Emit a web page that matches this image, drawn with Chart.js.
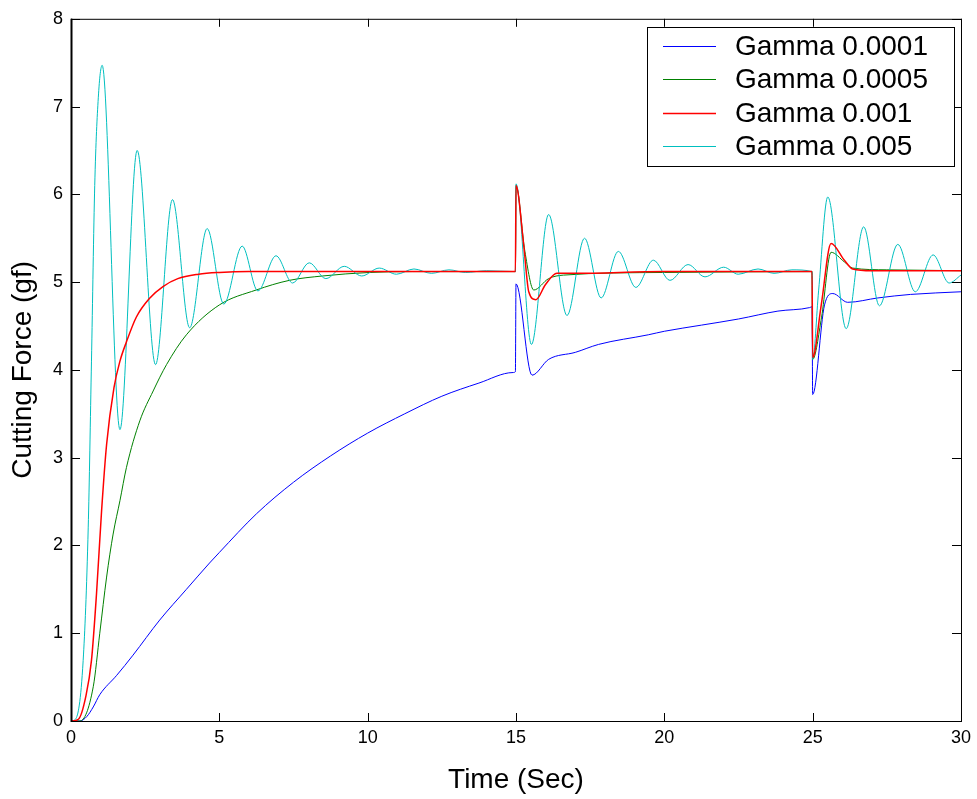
<!DOCTYPE html>
<html>
<head>
<meta charset="utf-8">
<script src="https://cdn.jsdelivr.net/npm/chart.js@4.4.0/dist/chart.umd.min.js"></script>
<style>
  body { margin: 0; background: #fff; }
  #force_chart { display: block; }
</style>
</head>
<body>
<canvas id="force_chart" width="977" height="799"></canvas>
<script>
const labels = ['Gamma 0.0001', 'Gamma 0.0005', 'Gamma 0.001', 'Gamma 0.005'];
const xTicks = [0, 5, 10, 15, 20, 25, 30];
const yTicks = [0, 1, 2, 3, 4, 5, 6, 7, 8];

// Gamma 0.0001 (blue)
const t_g1 = [0, 0.3, 0.53, 0.75, 0.97, 1.54, 2.09, 2.99, 3.89, 4.67, 5.0, 6.25, 7.5, 8.75, 10, 11.25, 12.5, 13.75, 14.9, 14.98,
  15.0, 15.54, 16.1, 17.0, 17.78, 19.46, 20, 21.25, 22.5, 23.83, 24.9, 24.98,
  25.0, 25.4, 25.68, 26.18, 27.2, 28.3, 30];
const v_g1 = [0, 0, 0.05, 0.16, 0.3, 0.52, 0.75, 1.15, 1.5, 1.8, 1.92, 2.36, 2.72, 3.02, 3.28, 3.5, 3.7, 3.85, 3.97, 3.98,
  4.98, 3.94, 4.12, 4.2, 4.29, 4.4, 4.44, 4.51, 4.58, 4.67, 4.71, 4.72,
  3.72, 4.74, 4.87, 4.77, 4.82, 4.86, 4.89];

// Gamma 0.0005 (green)
const t_g2 = [0, 0.3, 0.75, 0.97, 1.2, 1.42, 1.65, 1.87, 2.32, 2.77, 3.22, 3.89, 5.0, 6.24, 7.36, 8.48, 10.05, 11.5, 14.98,
  15.0, 15.3, 15.6, 16.1, 16.6, 20, 24.98,
  25.0, 25.3, 25.62, 26.07, 26.35, 27.5, 30];
const v_g2 = [0, 0, 0.39, 1.0, 1.64, 2.13, 2.51, 2.89, 3.42, 3.76, 4.06, 4.4, 4.74, 4.91, 5.02, 5.07, 5.11, 5.12, 5.12,
  6.1, 5.35, 4.91, 5.04, 5.08, 5.11, 5.12,
  4.12, 4.6, 5.34, 5.23, 5.16, 5.14, 5.13];

// Gamma 0.001 (red)
const t_g3 = [0, 0.25, 0.5, 0.69, 0.86, 1.03, 1.2, 1.45, 1.65, 1.87, 2.2, 2.66, 3.1, 3.6, 4.3, 5.0, 6.0, 14.98,
  15.0, 15.26, 15.43, 15.67, 15.99, 16.38, 17.0, 20.0, 24.98,
  25.0, 25.29, 25.62, 26.07, 26.35, 27, 30];
const v_g3 = [0, 0.02, 0.28, 0.69, 1.45, 2.39, 3.15, 3.8, 4.1, 4.32, 4.6, 4.82, 4.95, 5.04, 5.09, 5.11, 5.12, 5.12,
  6.1, 5.42, 4.89, 4.8, 4.97, 5.1, 5.1, 5.12, 5.12,
  4.14, 4.74, 5.44, 5.25, 5.15, 5.13, 5.13];

// Gamma 0.005 (cyan)
const t_g4 = [0, 0.15, 0.41, 0.58, 0.69, 0.8, 0.92, 1.05, 1.65, 2.23, 2.85, 3.42, 4.0, 4.59, 5.15, 5.77, 6.3, 6.91,
  7.47, 8.03, 8.59, 9.21, 9.8, 10.39, 10.97, 11.56, 12.15, 12.74, 13.3, 14.0, 14.98,
  15.0, 15.52, 16.1, 16.72, 17.31, 17.87, 18.45, 19.04, 19.63, 20.19, 20.8, 21.37, 22.0, 22.49, 23.16,
  23.7, 24.3, 24.98,
  25.0, 25.2, 25.51, 26.13, 26.72, 27.25, 27.87, 28.46, 29.06, 29.6, 30];
const v_g4 = [0, 0.02, 0.69, 2.2, 4.1, 6.1, 7.1, 7.47, 3.32, 6.5, 4.06, 5.94, 4.48, 5.61, 4.75, 5.41, 4.9, 5.3,
  4.99, 5.22, 5.04, 5.18, 5.07, 5.16, 5.09, 5.15, 5.1, 5.14, 5.11, 5.13, 5.12,
  6.12, 4.29, 5.77, 4.62, 5.5, 4.82, 5.35, 4.94, 5.25, 5.02, 5.2, 5.06, 5.17, 5.09, 5.15,
  5.1, 5.14, 5.12,
  4.12, 4.9, 5.97, 4.47, 5.63, 4.73, 5.43, 4.89, 5.31, 4.99, 5.08];

const colors = ['#0000ff', '#008000', '#ff0000', '#00bfbf'];
const widths = [1, 1, 1.5, 1];

const fontFamily = '"Liberation Sans", Arial, sans-serif';

function toPoints(ts, vs) {
  return ts.map((t, i) => ({x: t, y: vs[i]}));
}

const series = [[t_g1, v_g1], [t_g2, v_g2], [t_g3, v_g3], [t_g4, v_g4]];
const drawOrder = [3, 2, 0, 1];

const force_data = {
  datasets: series.map((s, i) => ({
    label: labels[i],
    data: toPoints(s[0], s[1]),
    borderColor: colors[i],
    backgroundColor: colors[i],
    borderWidth: widths[i],
    pointRadius: 0,
    cubicInterpolationMode: 'monotone',
    fill: false,
    order: drawOrder[i]
  }))
};

// box with inward ticks on all four sides, like the original figure
const boxPlugin = {
  id: 'box',
  afterDatasetsDraw(chart) {
    const {ctx, chartArea: a, scales} = chart;
    ctx.save();
    ctx.strokeStyle = '#000';
    ctx.lineWidth = 1;
    ctx.strokeRect(a.left + 0.5, a.top + 0.5, a.right - a.left, a.bottom - a.top);
    ctx.lineWidth = 2;
    ctx.beginPath();
    ctx.moveTo(a.left + 0.5, a.top);
    ctx.lineTo(a.left + 0.5, a.bottom + 1);
    ctx.stroke();
    ctx.lineWidth = 1;
    ctx.beginPath();
    xTicks.forEach(v => {
      const px = Math.round(scales.x.getPixelForValue(v)) + 0.5;
      ctx.moveTo(px, a.bottom);
      ctx.lineTo(px, a.bottom - 8);
      ctx.moveTo(px, a.top);
      ctx.lineTo(px, a.top + 8);
    });
    yTicks.forEach(v => {
      const py = Math.round(scales.y.getPixelForValue(v)) + 0.5;
      ctx.moveTo(a.left, py);
      ctx.lineTo(a.left + 9, py);
      ctx.moveTo(a.right, py);
      ctx.lineTo(a.right - 9, py);
    });
    ctx.stroke();
    ctx.restore();
  },
  afterDraw(chart) {
    const ctx = chart.ctx;
    const bx = 647, by = 27, bw = 307, bh = 139;
    ctx.save();
    ctx.fillStyle = '#fff';
    ctx.fillRect(bx, by, bw, bh);
    ctx.strokeStyle = '#000';
    ctx.lineWidth = 1;
    ctx.strokeRect(bx + 0.5, by + 0.5, bw, bh);
    ctx.font = '28px ' + fontFamily;
    ctx.textBaseline = 'middle';
    ctx.fillStyle = '#000';
    labels.forEach((lab, i) => {
      const y = by + 19 + i * 33.4;
      ctx.strokeStyle = colors[i];
      ctx.lineWidth = widths[i];
      ctx.beginPath();
      ctx.moveTo(663, Math.round(y) + 0.5);
      ctx.lineTo(716, Math.round(y) + 0.5);
      ctx.stroke();
      ctx.fillText(lab, 735, y + 1);
    });
    ctx.restore();
  }
};

const scales = {
  x: {
    type: 'linear',
    min: 0,
    max: 30,
    afterFit: s => { s.height = 78; },
    afterBuildTicks: s => { s.ticks = xTicks.map(v => ({value: v})); },
    grid: { display: false, drawTicks: false },
    border: { display: false },
    ticks: { color: '#000', padding: 6, maxRotation: 0, font: { family: fontFamily, size: 18 } },
    title: {
      display: true,
      text: 'Time (Sec)',
      color: '#000',
      padding: { top: 0, bottom: 2 },
      font: { family: fontFamily, size: 28 }
    }
  },
  y: {
    min: 0,
    max: 8,
    afterFit: s => { s.width = 71; },
    afterBuildTicks: s => { s.ticks = yTicks.map(v => ({value: v})); },
    grid: { display: false, drawTicks: false },
    border: { display: false },
    ticks: { color: '#000', padding: 8, font: { family: fontFamily, size: 18 } },
    title: {
      display: true,
      text: 'Cutting Force (gf)',
      color: '#000',
      padding: { top: 6, bottom: 0 },
      font: { family: fontFamily, size: 28 }
    }
  }
};

let ctx = document.getElementById('force_chart').getContext('2d');
let force_chart = new Chart(ctx, {
  type: 'line',
  data: force_data,
  options: {
    responsive: false,
    animation: false,
    layout: { padding: { left: 0, right: 13, top: 16, bottom: 0 } },
    scales: scales,
    plugins: {
      legend: { display: false },
      tooltip: { enabled: false }
    }
  },
  plugins: [boxPlugin]
});
</script>
</body>
</html>
